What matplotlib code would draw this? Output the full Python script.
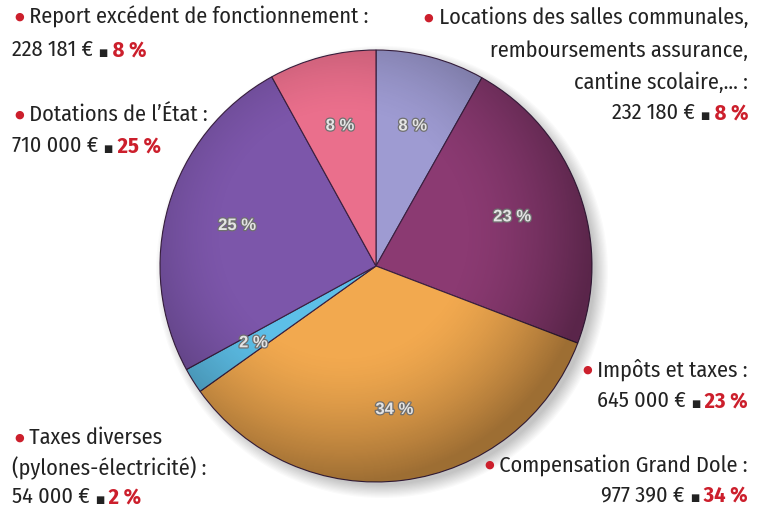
# Budget de fonctionnement - recettes (camembert)
import numpy as np
import matplotlib
matplotlib.use("Agg")
import matplotlib.pyplot as plt
import matplotlib.patheffects as pe
from matplotlib.offsetbox import TextArea, HPacker, AnnotationBbox
from matplotlib.patches import Circle

# data, clockwise from the top
labels = ["Locations des salles communales", "Impôts et taxes", "Compensation Grand Dole",
          "Taxes diverses", "Dotations de l'État", "Report excédent de fonctionnement"]
values = [232180, 645000, 977390, 54000, 710000, 228181]
colors = ["#9e9bd2", "#8b3a72", "#f2a94f", "#5dbfe8", "#7c56aa", "#ea6f8c"]
amounts = ["228 181 €", "710 000 €", "54 000 €", "232 180 €", "645 000 €", "977 390 €"]
pcts = ["8 %", "25 %", "2 %", "8 %", "23 %", "34 %"]

W, H = 764, 509
fig = plt.figure(figsize=(W/100, H/100), dpi=100)
ax = fig.add_axes([0, 0, 1, 1])

cx, cy, R = 376, H-266, 216

# soft shadow
for i in range(12):
    ax.add_patch(Circle((cx+6, cy-6), R+10-i*1.2, color='k', alpha=0.018, lw=0, zorder=0))

wedges, texts, autotexts = ax.pie(values, colors=colors, startangle=90, counterclock=False,
                                  center=(cx, cy), radius=R, autopct='%.0f %%', pctdistance=0.67,
                                  wedgeprops=dict(edgecolor='#3a2040', linewidth=0.8),
                                  textprops=dict(fontsize=12, fontweight='bold', color='#e4e4e4',
                                                 family=['Liberation Sans', 'DejaVu Sans']))
for t in autotexts:
    t.set_path_effects([pe.withStroke(linewidth=1.8, foreground='#707070')])

# shading on the pie: darker towards the edge
n = 400
xx, yy = np.meshgrid(np.linspace(-1, 1, n), np.linspace(-1, 1, n))
rr = np.sqrt((xx+0.15)**2 + (yy-0.15)**2)
shade = np.clip((rr-0.55)/0.6, 0, 1)**1.5 * 0.35
img = np.zeros((n, n, 4))
img[..., 3] = shade
im = ax.imshow(img, extent=(cx-R, cx+R, cy-R, cy+R), origin='lower', zorder=2)
im.set_clip_path(Circle((cx, cy), R, transform=ax.transData))
for t in autotexts:
    t.set_zorder(3)

ax.set_xlim(0, W)
ax.set_ylim(0, H)
ax.set_aspect('equal')
ax.axis('off')

FAM = ['Fira Sans Condensed', 'DejaVu Sans']
FS = 16
RED = '#cc1f2c'

def piece(s, color='#222222', weight='normal', size=FS):
    return TextArea(s, textprops=dict(color=color, fontsize=size, fontweight=weight, family=FAM))

def line(parts, x, y, ha, align='baseline'):
    box = HPacker(children=parts, align=align, pad=0, sep=0)
    ab = AnnotationBbox(box, (x, H-y), xycoords='data', frameon=False,
                        box_alignment=(0 if ha == 'left' else 1, 0.5), pad=0)
    ax.add_artist(ab)

def title(s, x, y, ha):
    line([piece('●', RED, size=8), piece(' ' + s)], x, y, ha, align='center')

def amount(a, p, x, y, ha):
    line([piece(a + ' '), piece('■', '#222222', size=7), piece(' ' + p, RED, 'bold')], x, y, ha)

# left side
title("Report excédent de fonctionnement :", 14, 17, 'left')
amount(amounts[0], pcts[0], 12, 50, 'left')
title("Dotations de l’État :", 14, 115, 'left')
amount(amounts[1], pcts[1], 12, 146, 'left')
title("Taxes diverses", 14, 438, 'left')
line([piece("(pylones-électricité) :")], 12, 468, 'left')
amount(amounts[2], pcts[2], 12, 497, 'left')

# right side
xr = 748
title("Locations des salles communales,", xr, 18, 'right')
line([piece("remboursements assurance,")], xr, 51, 'right')
line([piece("cantine scolaire,... :")], xr, 83, 'right')
amount(amounts[3], pcts[3], xr, 113, 'right')
title("Impôts et taxes :", xr, 370, 'right')
amount(amounts[4], pcts[4], xr, 401, 'right')
title("Compensation Grand Dole :", xr, 465, 'right')
amount(amounts[5], pcts[5], xr, 495, 'right')

fig.savefig('out.png', dpi=100)
